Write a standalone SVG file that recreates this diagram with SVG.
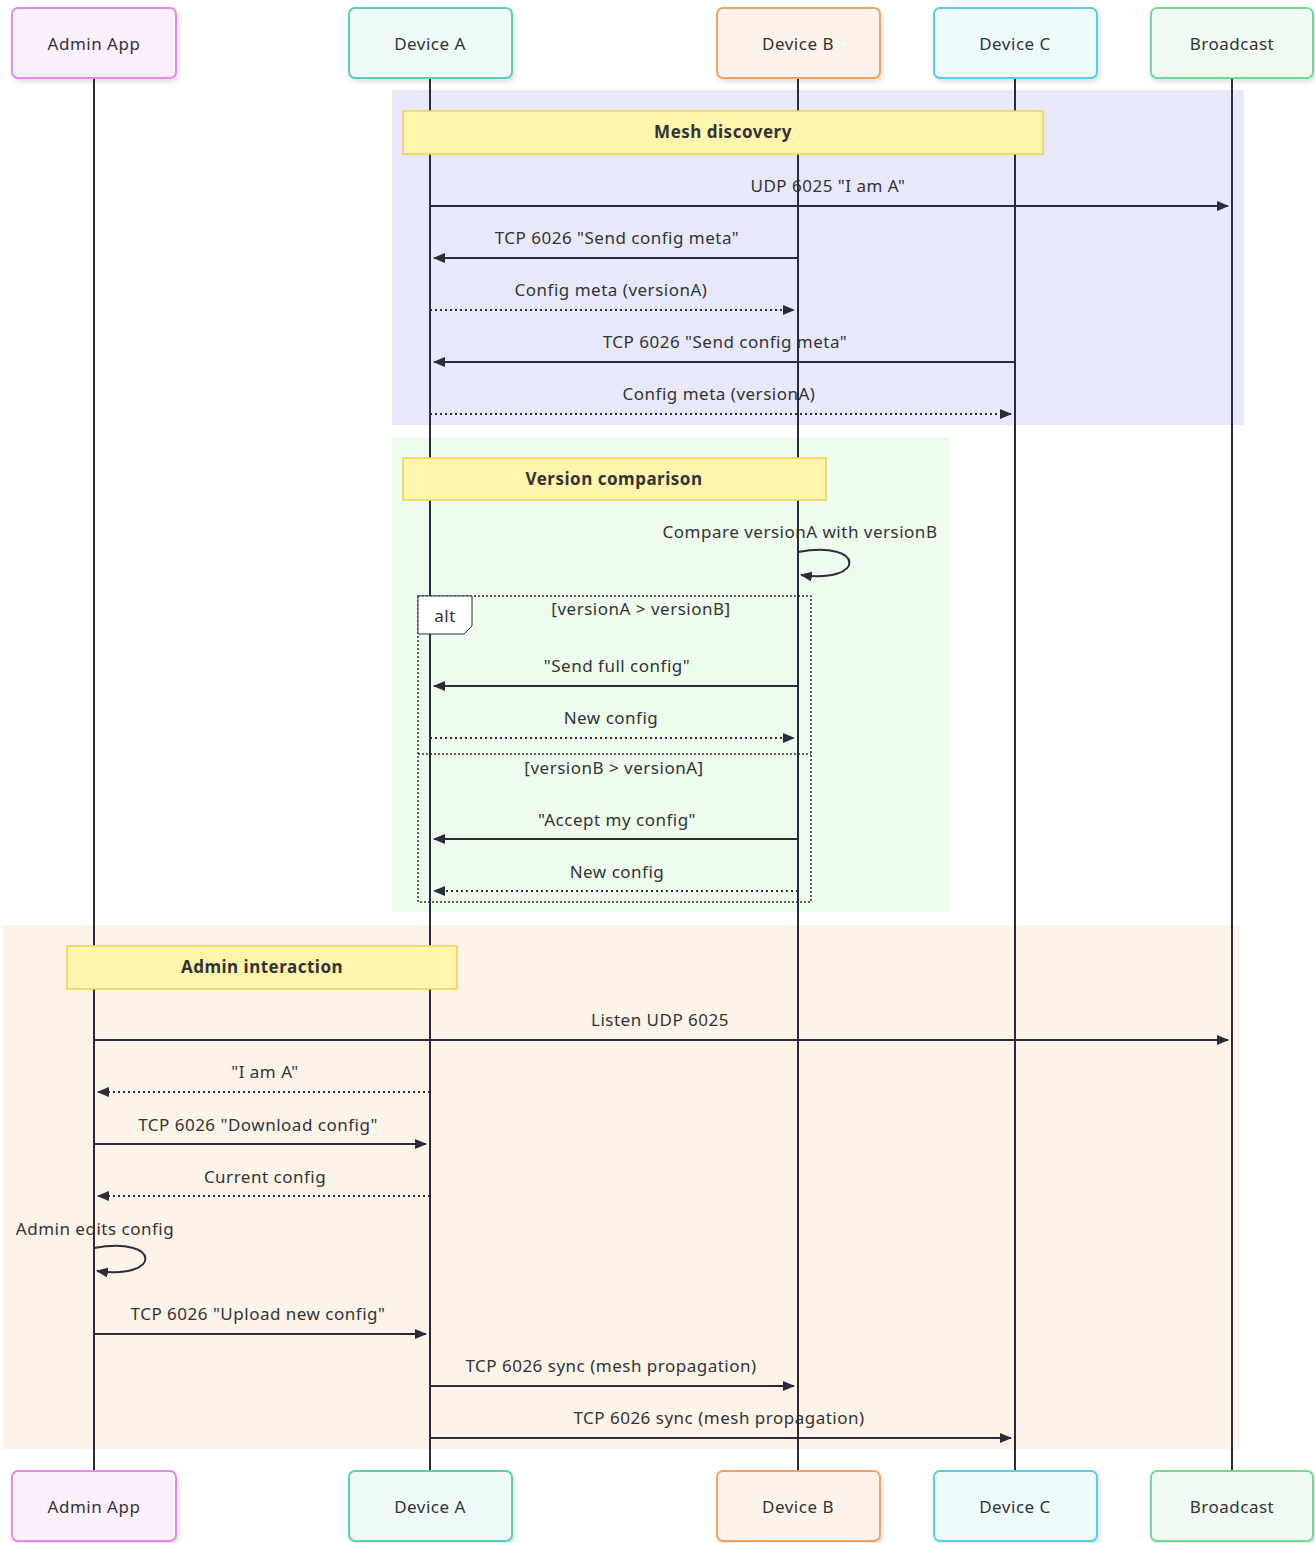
<svg xmlns="http://www.w3.org/2000/svg" width="1315" height="1543" viewBox="0 0 1315 1543">
<defs>
<marker id="ah" viewBox="0 0 12 10" refX="11" refY="5" markerWidth="12" markerHeight="10" markerUnits="userSpaceOnUse" orient="auto">
<path d="M0,0 L12,5 L0,10 z" fill="#2b2b3a"/>
</marker>
<filter id="sh" x="-10%" y="-10%" width="130%" height="140%">
<feDropShadow dx="2" dy="3" stdDeviation="2" flood-color="#000" flood-opacity="0.12"/>
</filter>
</defs>
<style>
text{font-family:"Noto Sans","Open Sans","DejaVu Sans",sans-serif;fill:#333;font-size:17px;letter-spacing:0.5px;text-anchor:middle}
.actor text{dominant-baseline:central}
.life{stroke:#2b2b3a;stroke-width:2}
.msg{stroke:#2b2b3a;stroke-width:2;fill:none}
.dot{stroke-dasharray:2,3}
.note{fill:#fff5ad;stroke:#f0d050;stroke-width:1.5}
.note-t{font-weight:bold}
</style>
<rect width="1315" height="1543" fill="#fff"/>
<g id="boxes">
<rect x="392" y="90" width="852" height="335" fill="#e8e8fb"/>
<rect x="392" y="437" width="558" height="475" fill="#edfced"/>
<rect x="3" y="925" width="1237" height="524" fill="#fdf3e9"/>
</g>
<g id="texts">
<text x="828" y="192">UDP 6025 "I am A"</text>
<text x="617" y="244">TCP 6026 "Send config meta"</text>
<text x="611" y="296">Config meta (versionA)</text>
<text x="725" y="348">TCP 6026 "Send config meta"</text>
<text x="719" y="400">Config meta (versionA)</text>
<text x="800" y="538">Compare versionA with versionB</text>
<text x="641" y="615">[versionA &gt; versionB]</text>
<text x="617" y="672">"Send full config"</text>
<text x="611" y="724">New config</text>
<text x="614" y="774">[versionB &gt; versionA]</text>
<text x="617" y="826">"Accept my config"</text>
<text x="617" y="878">New config</text>
<text x="660" y="1026">Listen UDP 6025</text>
<text x="265" y="1078">"I am A"</text>
<text x="258" y="1131">TCP 6026 "Download config"</text>
<text x="265" y="1183">Current config</text>
<text x="95" y="1235">Admin edits config</text>
<text x="258" y="1320">TCP 6026 "Upload new config"</text>
<text x="611" y="1372">TCP 6026 sync (mesh propagation)</text>
<text x="719" y="1424">TCP 6026 sync (mesh propagation)</text>
</g>
<g id="lifelines">
<line class="life" x1="94" y1="78" x2="94" y2="1471"/>
<line class="life" x1="430" y1="78" x2="430" y2="1471"/>
<line class="life" x1="798" y1="78" x2="798" y2="1471"/>
<line class="life" x1="1015" y1="78" x2="1015" y2="1471"/>
<line class="life" x1="1232" y1="78" x2="1232" y2="1471"/>
</g>
<g id="note-mesh"><rect class="note" x="403" y="111" width="640" height="43"/><text class="note-t" x="723" y="138">Mesh discovery</text></g>
<g id="note-version"><rect class="note" x="403" y="458" width="423" height="42"/><text class="note-t" x="614" y="485">Version comparison</text></g>
<g id="note-admin"><rect class="note" x="67" y="946" width="390" height="43"/><text class="note-t" x="262" y="973">Admin interaction</text></g>
<g id="alt">
<rect x="418" y="596" width="393" height="306" fill="none" stroke="#2b2b3a" stroke-width="1.5" stroke-dasharray="2,2"/>
<path d="M418,596 H472 V626 L464,634 H418 z" fill="#fff" stroke="#2b2b3a" stroke-width="1"/>
<text x="445" y="622">alt</text>
<line x1="418" y1="754" x2="811" y2="754" stroke="#2b2b3a" stroke-width="1.5" stroke-dasharray="2,2"/>
</g>
<g id="connectors">
<line class="msg" x1="430" y1="206" x2="1228" y2="206" marker-end="url(#ah)"/>
<line class="msg" x1="798" y1="258" x2="434" y2="258" marker-end="url(#ah)"/>
<line class="msg dot" x1="430" y1="310" x2="794" y2="310" marker-end="url(#ah)"/>
<line class="msg" x1="1015" y1="362" x2="434" y2="362" marker-end="url(#ah)"/>
<line class="msg dot" x1="430" y1="414" x2="1011" y2="414" marker-end="url(#ah)"/>
<path class="msg" d="M798,552 C866,540 866,584 801,575" marker-end="url(#ah)"/>
<line class="msg" x1="798" y1="686" x2="434" y2="686" marker-end="url(#ah)"/>
<line class="msg dot" x1="430" y1="738" x2="794" y2="738" marker-end="url(#ah)"/>
<line class="msg" x1="798" y1="839" x2="434" y2="839" marker-end="url(#ah)"/>
<line class="msg dot" x1="798" y1="891" x2="434" y2="891" marker-end="url(#ah)"/>
<line class="msg" x1="94" y1="1040" x2="1228" y2="1040" marker-end="url(#ah)"/>
<line class="msg dot" x1="430" y1="1092" x2="98" y2="1092" marker-end="url(#ah)"/>
<line class="msg" x1="94" y1="1144" x2="426" y2="1144" marker-end="url(#ah)"/>
<line class="msg dot" x1="430" y1="1196" x2="98" y2="1196" marker-end="url(#ah)"/>
<path class="msg" d="M94,1248 C162,1236 162,1280 97,1271" marker-end="url(#ah)"/>
<line class="msg" x1="94" y1="1334" x2="426" y2="1334" marker-end="url(#ah)"/>
<line class="msg" x1="430" y1="1386" x2="794" y2="1386" marker-end="url(#ah)"/>
<line class="msg" x1="430" y1="1438" x2="1011" y2="1438" marker-end="url(#ah)"/>
</g>
<g id="actor-admin-top" class="actor"><rect x="12" y="8" width="164" height="70" rx="6" fill="#fdf0fd" stroke="#e48ae6" stroke-width="2" filter="url(#sh)"/><text x="94" y="43">Admin App</text></g>
<g id="actor-a-top" class="actor"><rect x="349" y="8" width="163" height="70" rx="6" fill="#eefaf7" stroke="#5ccfb4" stroke-width="2" filter="url(#sh)"/><text x="430" y="43">Device A</text></g>
<g id="actor-b-top" class="actor"><rect x="717" y="8" width="163" height="70" rx="6" fill="#fef3ea" stroke="#f0a262" stroke-width="2" filter="url(#sh)"/><text x="798" y="43">Device B</text></g>
<g id="actor-c-top" class="actor"><rect x="934" y="8" width="163" height="70" rx="6" fill="#eefbfd" stroke="#5ccbe4" stroke-width="2" filter="url(#sh)"/><text x="1015" y="43">Device C</text></g>
<g id="actor-bc-top" class="actor"><rect x="1151" y="8" width="162" height="70" rx="6" fill="#effbf2" stroke="#76d894" stroke-width="2" filter="url(#sh)"/><text x="1232" y="43">Broadcast</text></g>
<g id="actor-admin-bot" class="actor"><rect x="12" y="1471" width="164" height="70" rx="6" fill="#fdf0fd" stroke="#e48ae6" stroke-width="2" filter="url(#sh)"/><text x="94" y="1506">Admin App</text></g>
<g id="actor-a-bot" class="actor"><rect x="349" y="1471" width="163" height="70" rx="6" fill="#eefaf7" stroke="#5ccfb4" stroke-width="2" filter="url(#sh)"/><text x="430" y="1506">Device A</text></g>
<g id="actor-b-bot" class="actor"><rect x="717" y="1471" width="163" height="70" rx="6" fill="#fef3ea" stroke="#f0a262" stroke-width="2" filter="url(#sh)"/><text x="798" y="1506">Device B</text></g>
<g id="actor-c-bot" class="actor"><rect x="934" y="1471" width="163" height="70" rx="6" fill="#eefbfd" stroke="#5ccbe4" stroke-width="2" filter="url(#sh)"/><text x="1015" y="1506">Device C</text></g>
<g id="actor-bc-bot" class="actor"><rect x="1151" y="1471" width="162" height="70" rx="6" fill="#effbf2" stroke="#76d894" stroke-width="2" filter="url(#sh)"/><text x="1232" y="1506">Broadcast</text></g>
</svg>
